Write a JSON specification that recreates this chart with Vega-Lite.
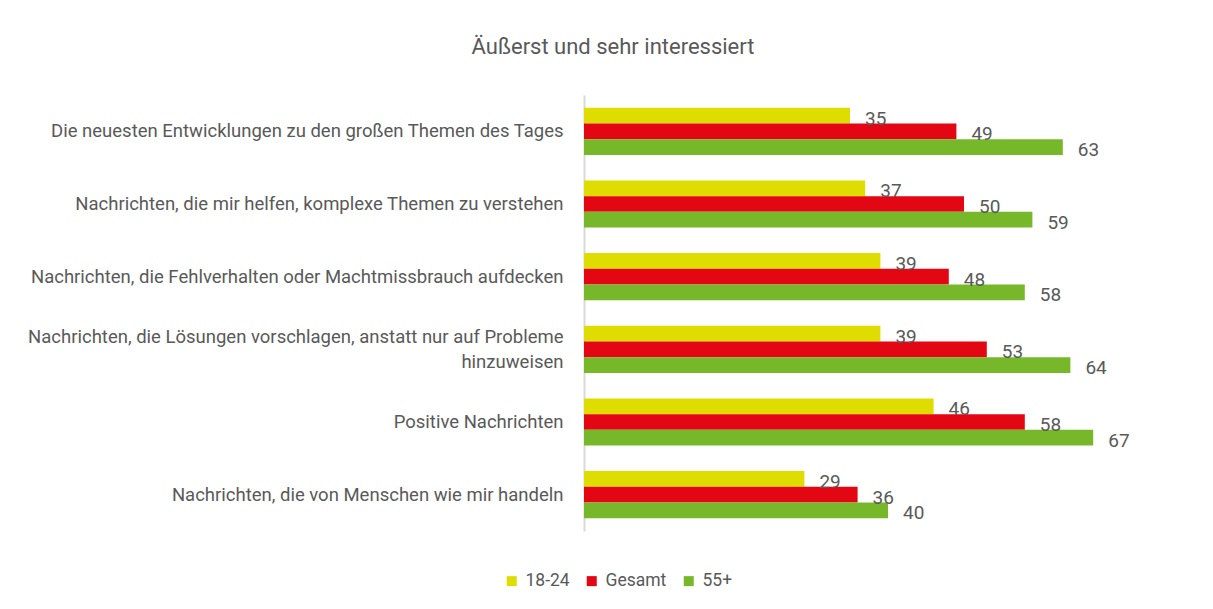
{
  "$schema": "https://vega.github.io/schema/vega-lite/v6.json",
  "width": 608,
  "height": 436,
  "autosize": {"type": "none"},
  "padding": {"left": 584, "top": 95, "right": 21, "bottom": 78},
  "background": "white",
  "config": {"view": {"stroke": null}},
  "title": {"text": "Äußerst und sehr interessiert", "font": "Roboto", "fontSize": 22, "fontWeight": "normal", "color": "#595959", "anchor": "middle", "frame": "group", "dx": -275, "offset": 36},
  "data": {"values": [
    {"category": "Die neuesten Entwicklungen zu den großen Themen des Tages", "series": "18-24", "value": 35},
    {"category": "Die neuesten Entwicklungen zu den großen Themen des Tages", "series": "Gesamt", "value": 49},
    {"category": "Die neuesten Entwicklungen zu den großen Themen des Tages", "series": "55+", "value": 63},
    {"category": "Nachrichten, die mir helfen, komplexe Themen zu verstehen", "series": "18-24", "value": 37},
    {"category": "Nachrichten, die mir helfen, komplexe Themen zu verstehen", "series": "Gesamt", "value": 50},
    {"category": "Nachrichten, die mir helfen, komplexe Themen zu verstehen", "series": "55+", "value": 59},
    {"category": "Nachrichten, die Fehlverhalten oder Machtmissbrauch aufdecken", "series": "18-24", "value": 39},
    {"category": "Nachrichten, die Fehlverhalten oder Machtmissbrauch aufdecken", "series": "Gesamt", "value": 48},
    {"category": "Nachrichten, die Fehlverhalten oder Machtmissbrauch aufdecken", "series": "55+", "value": 58},
    {"category": "Nachrichten, die Lösungen vorschlagen, anstatt nur auf Probleme hinzuweisen", "series": "18-24", "value": 39},
    {"category": "Nachrichten, die Lösungen vorschlagen, anstatt nur auf Probleme hinzuweisen", "series": "Gesamt", "value": 53},
    {"category": "Nachrichten, die Lösungen vorschlagen, anstatt nur auf Probleme hinzuweisen", "series": "55+", "value": 64},
    {"category": "Positive Nachrichten", "series": "18-24", "value": 46},
    {"category": "Positive Nachrichten", "series": "Gesamt", "value": 58},
    {"category": "Positive Nachrichten", "series": "55+", "value": 67},
    {"category": "Nachrichten, die von Menschen wie mir handeln", "series": "18-24", "value": 29},
    {"category": "Nachrichten, die von Menschen wie mir handeln", "series": "Gesamt", "value": 36},
    {"category": "Nachrichten, die von Menschen wie mir handeln", "series": "55+", "value": 40}
  ]},
  "encoding": {
    "y": {
      "field": "category", "type": "nominal", "sort": null,
      "scale": {"paddingInner": 0.35, "paddingOuter": 0.175},
      "axis": {
        "title": null, "ticks": false, "domainColor": "#D9D9D9", "domainWidth": 2,
        "labelPadding": 21, "labelFont": "Roboto", "labelFontSize": 18.5, "labelColor": "#595959",
        "labelLimit": 700, "labelLineHeight": 25,
        "labelOffset": {"condition": {"test": "datum.label == 'Nachrichten, die Lösungen vorschlagen, anstatt nur auf Probleme hinzuweisen'", "value": -12}, "value": 0},
        "labelExpr": "datum.label == 'Nachrichten, die Lösungen vorschlagen, anstatt nur auf Probleme hinzuweisen' ? ['Nachrichten, die Lösungen vorschlagen, anstatt nur auf Probleme', 'hinzuweisen'] : datum.label"
      }
    },
    "yOffset": {"field": "series", "type": "nominal", "sort": ["18-24", "Gesamt", "55+"], "scale": {"paddingInner": 0, "paddingOuter": 0}},
    "x": {"field": "value", "type": "quantitative", "scale": {"domain": [0, 80]}, "axis": null}
  },
  "layer": [
    {
      "mark": {"type": "bar"},
      "encoding": {
        "color": {
          "field": "series", "type": "nominal", "sort": ["18-24", "Gesamt", "55+"],
          "scale": {"domain": ["18-24", "Gesamt", "55+"], "range": ["#DFDC00", "#E30613", "#77B82A"]},
          "legend": {
            "title": null, "orient": "none", "direction": "horizontal", "legendX": -81, "legendY": 477,
            "symbolType": "square", "symbolSize": 100, "symbolStrokeWidth": 0,
            "labelFont": "Roboto", "labelFontSize": 17.5, "labelColor": "#595959", "labelOffset": 5, "columnPadding": 13
          }
        }
      }
    },
    {
      "mark": {"type": "text", "align": "left", "baseline": "middle", "dx": 15, "dy": 3, "font": "Roboto", "fontSize": 19, "color": "#595959"},
      "encoding": {"text": {"field": "value", "type": "quantitative"}}
    }
  ]
}
